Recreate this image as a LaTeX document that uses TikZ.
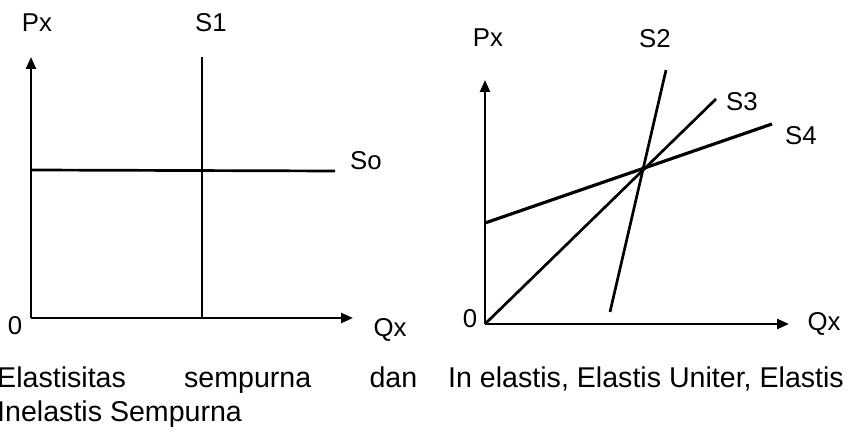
\documentclass[tikz,border=0pt]{standalone}
\usepackage{fontspec}
\setmainfont{Liberation Sans}
\usetikzlibrary{arrows.meta,positioning}

\begin{document}
\begin{tikzpicture}[
  x=0.03cm, y=-0.03cm,
  axis/.style={-{Triangle[length=3.6mm, width=3mm]}, line width=2.1pt},
  curve/.style={line width=2.3pt},
  lbl/.style={font=\fontsize{22}{24}\selectfont, inner sep=0pt},
  caption/.style={font=\fontsize{24.4}{29}\selectfont, inner sep=0pt},
]

\useasboundingbox (0,0) rectangle (859,433);

% === Left: perfectly elastic and perfectly inelastic ===
\coordinate (o1) at (31,318);
\coordinate (py1) at (31,57);
\coordinate (qx1) at (353,318);
\draw[axis] (o1) -- (py1);
\draw[axis] (o1) -- (qx1);

\coordinate (s1top) at (202,57);
\coordinate (s1bot) at (202,318);
\draw[curve] (s1bot) -- (s1top);

\coordinate (so0) at (31,170);
\coordinate (so1) at (335,171);
\draw[curve] (so0) -- (so1);

\node[lbl] (px1) at (37,23) {Px};
\node[lbl] (s1) at (211,23) {S1};
\node[lbl] (so) at (366,161) {So};
\node[lbl] (zero1) at (15,326) {0};
\node[lbl] (q1) at (390,330) {Qx};

% === Right: inelastic, unitary, elastic ===
\coordinate (o2) at (485,324);
\coordinate (py2) at (485,80);
\coordinate (qx2) at (789,324);
\draw[axis] (o2) -- (py2);
\draw[axis] (o2) -- (qx2);

\coordinate (s2bot) at (610,312);
\coordinate (s2top) at (666,70);
\draw[curve] (s2bot) -- (s2top);

\coordinate (s3top) at (716,99);
\draw[curve] (o2) -- (s3top);

\coordinate (s4bot) at (485,223);
\coordinate (s4top) at (772,124);
\draw[line width=2.7pt] (s4bot) -- (s4top);

\node[lbl] (px2) at (488,38) {Px};
\node[lbl] (s2) at (655,39) {S2};
\node[lbl] (s3) at (742,102) {S3};
\node[lbl] (s4) at (801,136) {S4};
\node[lbl] (zero2) at (470,319) {0};
\node[lbl] (q2) at (824,324) {Qx};

% === Captions ===
\node[caption, anchor=base west, text width=12.6cm, align=justify] (capl) at (-3,388)
  {Elastisitas sempurna dan\linebreak Inelastis Sempurna};
\node[caption, anchor=base west] (capr) at (448,388) {In elastis, Elastis Uniter, Elastis};

\end{tikzpicture}
\end{document}
